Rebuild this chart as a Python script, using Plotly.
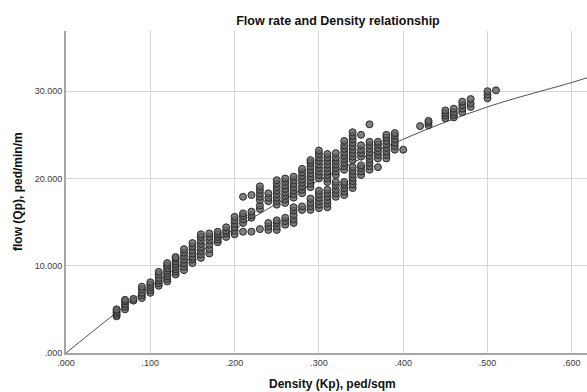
import plotly.graph_objects as go

# Observed density levels (ped/sqm) and the flow readings (ped/min/m) recorded at each level
DENSITY_LEVELS = [0.06, 0.07, 0.08, 0.09, 0.10, 0.11, 0.12, 0.13, 0.14, 0.15,
                  0.16, 0.17, 0.18, 0.19, 0.20, 0.21, 0.22, 0.23, 0.24, 0.25,
                  0.26, 0.27, 0.28, 0.29, 0.30, 0.31, 0.32, 0.33, 0.34, 0.35,
                  0.36, 0.37, 0.38, 0.39, 0.40, 0.42, 0.43, 0.45, 0.46, 0.47,
                  0.48, 0.50, 0.51]

FLOW_AT_LEVEL = [
    [4.2, 4.4, 4.6, 4.8, 5.0],
    [5.0, 5.3, 5.6, 5.9, 6.1],
    [6.0, 6.2],
    [6.3, 6.6, 6.9, 7.3, 7.6],
    [6.9, 7.2, 7.5, 7.8, 8.1],
    [7.7, 8.0, 8.3, 8.6, 9.0, 9.3],
    [8.2, 8.5, 8.8, 9.1, 9.4, 9.7, 10.0, 10.3],
    [9.0, 9.3, 9.6, 9.9, 10.2, 10.5, 10.8, 11.0],
    [9.5, 9.9, 10.3, 10.7, 11.1, 11.5, 11.9],
    [10.3, 10.7, 11.0, 11.4, 11.8, 12.2, 12.6],
    [10.9, 11.3, 11.7, 12.1, 12.5, 12.9, 13.3, 13.6],
    [11.4, 11.9, 12.4, 12.9, 13.3, 13.7],
    [12.7, 13.0, 13.3, 13.6, 13.9],
    [13.3, 13.7, 14.0, 14.4],
    [13.6, 14.0, 14.4, 14.8, 15.2, 15.6],
    [13.9, 14.9, 15.3, 15.7, 16.0, 17.9],
    [13.9, 15.5, 15.8, 16.2, 18.1],
    [14.2, 16.5, 16.9, 17.5, 17.9, 18.3, 18.7, 19.1],
    [14.1, 14.5, 14.9, 17.4, 17.8, 18.3],
    [14.1, 14.5, 14.9, 15.2, 17.0, 17.4, 17.8, 18.2, 18.6, 19.0, 19.4, 19.8],
    [14.7, 15.1, 15.5, 17.2, 17.6, 18.0, 18.4, 18.8, 19.2, 19.6, 20.0],
    [14.9, 15.3, 15.8, 16.3, 16.7, 17.8, 18.2, 18.6, 19.0, 19.4, 19.8, 20.2],
    [16.4, 16.8, 18.3, 18.7, 19.1, 19.5, 19.9, 20.3, 20.7, 21.1],
    [16.4, 16.8, 17.2, 17.7, 19.0, 19.4, 19.8, 20.2, 20.6, 21.0, 21.4, 21.8, 22.1],
    [16.6, 17.0, 17.4, 17.8, 18.2, 18.6, 20.0, 20.4, 20.8, 21.2, 21.6, 22.0,
     22.4, 22.8, 23.2],
    [16.7, 17.1, 17.5, 17.9, 18.3, 18.7, 19.6, 20.0, 20.4, 20.8, 21.2, 21.6,
     22.0, 22.4, 22.8],
    [17.9, 18.3, 18.7, 19.2, 19.6, 20.4, 20.8, 21.2, 21.6, 22.0, 22.4, 22.9],
    [18.1, 18.5, 18.9, 19.3, 19.6, 21.0, 21.4, 21.8, 22.2, 22.6, 23.0, 23.4,
     23.8, 24.3],
    [18.9, 19.3, 19.7, 20.1, 20.5, 20.9, 21.3, 22.1, 22.5, 22.9, 23.3, 23.7,
     24.1, 24.5, 24.9, 25.3],
    [20.4, 20.8, 21.2, 21.5, 22.5, 22.9, 23.3, 23.8, 25.0],
    [21.0, 21.4, 21.8, 22.2, 22.6, 23.0, 23.4, 23.8, 24.2, 26.2],
    [21.3, 22.3, 22.7, 23.1, 23.5, 23.9, 24.2],
    [22.3, 22.7, 23.1, 23.5, 23.9, 24.3, 24.7, 25.0],
    [23.3, 23.7, 24.1, 24.5, 24.9, 25.2],
    [23.3],
    [26.0],
    [26.1, 26.4, 26.6],
    [26.9, 27.2, 27.5, 27.8],
    [27.0, 27.3, 27.6, 28.0],
    [27.6, 28.0, 28.4, 28.8],
    [28.2, 28.6, 29.1],
    [29.2, 29.6, 30.0],
    [30.1],
]

# Fitted flow-density curve, sampled along its length
FIT_DENSITY = [0.0, 0.1, 0.2, 0.3, 0.4, 0.5, 0.6, 0.62]
FIT_FLOW = [0.0, 7.6, 14.2, 19.8, 24.5, 28.2, 31.0, 31.6]

X_TICKS = [0.0, 0.1, 0.2, 0.3, 0.4, 0.5, 0.6]
X_TICK_LABELS = [".000", ".100", ".200", ".300", ".400", ".500", ".600"]
Y_TICKS = [0, 10, 20, 30]
Y_TICK_LABELS = [".000", "10.000", "20.000", "30.000"]

density = []
flow = []
for level, readings in zip(DENSITY_LEVELS, FLOW_AT_LEVEL):
    density.extend([level] * len(readings))
    flow.extend(readings)

FONT = "Liberation Sans, Arial, sans-serif"

fig = go.Figure()
fig.add_trace(go.Scatter(
    x=FIT_DENSITY, y=FIT_FLOW, mode="lines", line_shape="spline",
    line=dict(color="#505050", width=1), hoverinfo="skip", showlegend=False,
))
fig.add_trace(go.Scatter(
    x=density, y=flow, mode="markers", showlegend=False,
    marker=dict(size=7, color="rgba(100,100,100,0.82)",
                line=dict(color="#2a2a2a", width=1)),
))

axis_common = dict(
    showgrid=True, gridcolor="#d6d6d6", gridwidth=1,
    showline=True, linecolor="#a6a6a6", linewidth=2,
    zeroline=False, ticks="", mirror=False,
    tickfont=dict(family=FONT, size=9, color="#3a3a3a"),
)

fig.update_xaxes(range=[0, 0.618], tickvals=X_TICKS, ticktext=X_TICK_LABELS,
                 **axis_common)
fig.update_yaxes(range=[0, 36.9], tickvals=Y_TICKS, ticktext=Y_TICK_LABELS,
                 **axis_common)

fig.update_layout(
    width=587, height=392,
    margin=dict(l=66, r=0, t=31, b=39),
    plot_bgcolor="white", paper_bgcolor="white",
    title=dict(text="<b>Flow rate and Density relationship</b>",
               x=338 / 587, xanchor="center", y=1 - 21 / 392, yanchor="middle",
               font=dict(family=FONT, size=12.5, color="#111111")),
    annotations=[
        dict(text="<b>Density (Kp), ped/sqm</b>", xref="paper", yref="paper",
             x=(332 - 66) / 521, y=-(384 - 353) / 322, xanchor="center",
             yanchor="middle", showarrow=False,
             font=dict(family=FONT, size=12, color="#111111")),
        dict(text="<b>flow (Qp), ped/min/m</b>", xref="paper", yref="paper",
             x=-(66 - 18) / 521, y=0.5, xanchor="center", yanchor="middle",
             textangle=-90, showarrow=False,
             font=dict(family=FONT, size=12, color="#111111")),
    ],
)

fig.write_html("out.html")
